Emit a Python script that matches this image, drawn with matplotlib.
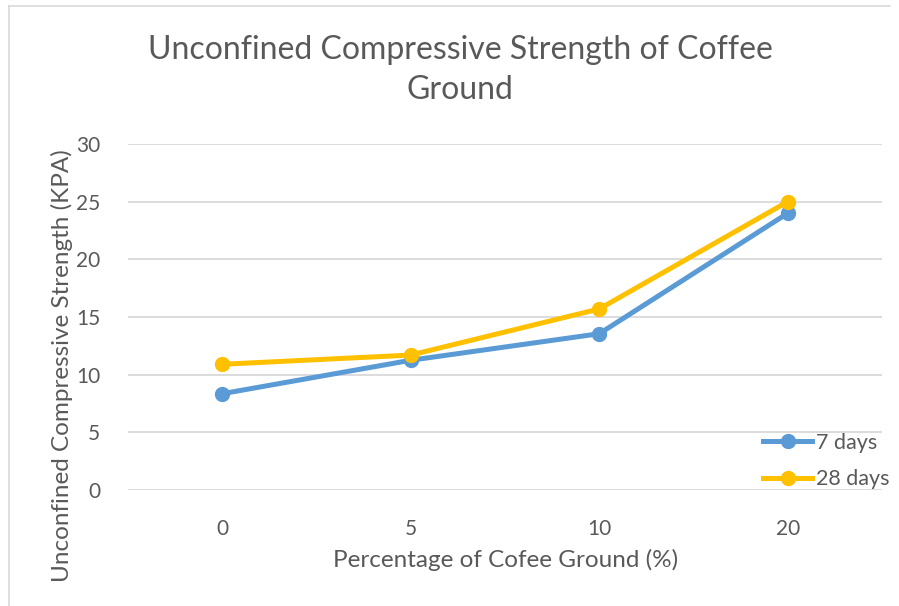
import matplotlib.pyplot as plt
from matplotlib.lines import Line2D

plt.rcParams['font.family'] = ['Lato', 'DejaVu Sans']

categories = ["0", "5", "10", "20"]
series_7_days = [8.35, 11.25, 13.55, 24.0]
series_28_days = [10.9, 11.7, 15.7, 25.0]
series_names = ["7 days", "28 days"]
y_ticks = [0, 5, 10, 15, 20, 25, 30]

TEXT = "#595959"
GRID = "#D9D9D9"
BLUE = "#5B9BD5"
GOLD = "#FFC000"

W, H = 899, 606
fig = plt.figure(figsize=(W / 100, H / 100), dpi=100)

# plot area in pixel coordinates
left, right, top, bottom = 128, 882, 144, 490
ax = fig.add_axes([left / W, 1 - bottom / H, (right - left) / W, (bottom - top) / H])

x = list(range(len(categories)))
ax.plot(x, series_7_days, color=BLUE, lw=3.6, marker='o', ms=10,
        solid_capstyle='round', zorder=3)
ax.plot(x, series_28_days, color=GOLD, lw=3.6, marker='o', ms=10,
        solid_capstyle='round', zorder=4)

ax.set_xlim(-0.5, len(categories) - 0.5)
ax.set_ylim(0, 30)
ax.set_yticks(y_ticks)
ax.set_xticks(x)
ax.set_xticklabels(categories)
ax.grid(axis='y', color=GRID, lw=1.3)
ax.set_axisbelow(True)
for s in ax.spines.values():
    s.set_visible(False)
ax.tick_params(length=0, labelsize=15, labelcolor=TEXT)
ax.tick_params(axis='y', pad=20)
ax.tick_params(axis='x', pad=21)

# titles
fig.text(460 / W, 1 - 50 / H, "Unconfined Compressive Strength of Coffee",
         ha='center', va='center', fontsize=23, color=TEXT)
fig.text(460 / W, 1 - 90 / H, "Ground",
         ha='center', va='center', fontsize=23, color=TEXT)
fig.text(506 / W, 1 - 560 / H, "Percentage of Cofee Ground (%)",
         ha='center', va='center', fontsize=17.5, color=TEXT)
fig.text(62 / W, 1 - 366 / H, "Unconfined Compressive Strength (KPA)",
         ha='center', va='center', rotation=90, fontsize=17.5, color=TEXT)

# legend
handles = [Line2D([], [], color=BLUE, lw=3.6, marker='o', ms=10),
           Line2D([], [], color=GOLD, lw=3.6, marker='o', ms=10)]
fig.legend(handles, series_names, loc='center left',
           bbox_to_anchor=(752 / W, 1 - 461 / H), frameon=False,
           fontsize=15.5, labelcolor=TEXT, handlelength=2.3, handletextpad=0.15,
           labelspacing=0.75, borderpad=0)

# outer border of the chart area
fig.add_artist(Line2D([9 / W, 9 / W], [0, 1 - 6 / H], color=GRID, lw=1.2,
                      transform=fig.transFigure))
fig.add_artist(Line2D([9 / W, 890 / W], [1 - 6 / H, 1 - 6 / H], color=GRID,
                      lw=1.2, transform=fig.transFigure))

fig.savefig("out.png", dpi=100, facecolor='white')
